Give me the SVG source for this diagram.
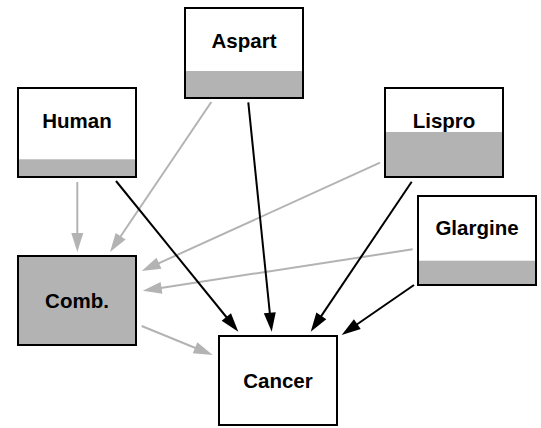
<svg xmlns="http://www.w3.org/2000/svg" width="541" height="428" viewBox="0 0 541 428">
<style>
.box{fill:#fff;stroke:none}
.band{fill:#b3b3b3;stroke:none}
.frame{fill:none;stroke:#000;stroke-width:2}
.lbl{font-family:"Liberation Sans",Arial,Helvetica,sans-serif;font-weight:bold;font-size:20.5px;fill:#000;text-anchor:middle}
.g{stroke:#b3b3b3;stroke-width:2;fill:none;marker-end:url(#ag)}
.k{stroke:#000;stroke-width:2;fill:none;marker-end:url(#ak)}
</style>
<defs>
<marker id="ag" markerUnits="userSpaceOnUse" markerWidth="20" markerHeight="12" refX="9" refY="6" orient="auto" overflow="visible">
<path d="M0,0 L19,6 L0,12 z" fill="#b3b3b3"/>
</marker>
<marker id="ak" markerUnits="userSpaceOnUse" markerWidth="20" markerHeight="12" refX="9" refY="6" orient="auto" overflow="visible">
<path d="M0,0 L19,6 L0,12 z" fill="#000"/>
</marker>
</defs>
<rect width="541" height="428" fill="#fff"/>
<g id="connectors">
<line class="g" x1="77.3" y1="182" x2="77.3" y2="242"/>
<line class="g" x1="211.3" y1="102" x2="115.6" y2="243.7"/>
<line class="g" x1="380" y1="162.7" x2="150.8" y2="266.9"/>
<line class="g" x1="412.7" y1="249.3" x2="152.6" y2="289.2"/>
<line class="g" x1="141.7" y1="326" x2="203.4" y2="351.2"/>
<line class="k" x1="116" y1="181" x2="232" y2="324"/>
<line class="k" x1="248.3" y1="102.3" x2="270.7" y2="321.7"/>
<line class="k" x1="411.7" y1="181.7" x2="316.3" y2="323.4"/>
<line class="k" x1="414" y1="285" x2="349.9" y2="329.3"/>
</g>
<g id="human">
<rect class="box" x="18" y="88" width="118" height="89"/>
<rect class="band" x="18" y="159.3" width="118" height="17.7"/>
<rect class="frame" x="18" y="88" width="118" height="89"/>
<text class="lbl" x="77" y="128.3">Human</text>
</g>
<g id="aspart">
<rect class="box" x="185" y="8" width="118" height="90"/>
<rect class="band" x="185" y="71" width="118" height="27"/>
<rect class="frame" x="185" y="8" width="118" height="90"/>
<text class="lbl" x="244" y="47.7">Aspart</text>
</g>
<g id="lispro">
<rect class="box" x="385" y="88" width="118" height="89"/>
<rect class="band" x="385" y="132" width="118" height="45"/>
<rect class="frame" x="385" y="88" width="118" height="89"/>
<text class="lbl" x="444" y="128.3">Lispro</text>
</g>
<g id="glargine">
<rect class="box" x="418" y="196" width="118" height="89"/>
<rect class="band" x="418" y="260.7" width="118" height="24.3"/>
<rect class="frame" x="418" y="196" width="118" height="89"/>
<text class="lbl" x="477" y="235">Glargine</text>
</g>
<g id="comb">
<rect class="band" x="18" y="256" width="118" height="89"/>
<rect class="frame" x="18" y="256" width="118" height="89"/>
<text class="lbl" x="77" y="308.3">Comb.</text>
</g>
<g id="cancer">
<rect class="box" x="219" y="336" width="118" height="89"/>
<rect class="frame" x="219" y="336" width="118" height="89"/>
<text class="lbl" x="278" y="388.3">Cancer</text>
</g>
</svg>
